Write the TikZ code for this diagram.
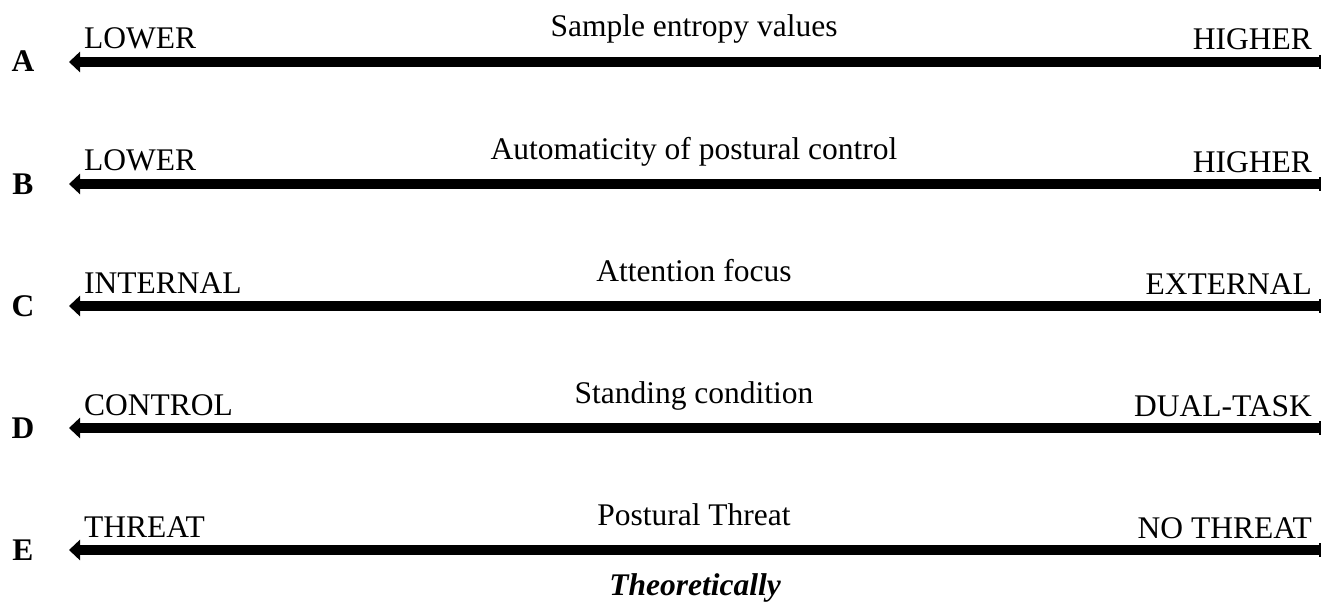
\documentclass[tikz,border=0pt]{standalone}
\usepackage{fontspec}
\setmainfont{Liberation Serif}
\usetikzlibrary{arrows.meta}
\begin{document}
\begin{tikzpicture}[x=1pt,y=-1pt,
  txt/.style={inner sep=0pt,font=\fontsize{31.5}{36}\selectfont},
  letter/.style={txt,anchor=base,font=\fontsize{31.5}{36}\selectfont\bfseries},
  lefttxt/.style={txt,anchor=base west},
  righttxt/.style={txt,anchor=base east},
  titletxt/.style={txt,anchor=base},
  scalearrow/.style={line width=10pt,-{Triangle[length=11pt,width=20pt]}},
  endtick/.style={line width=1.6pt}]
\useasboundingbox (0,0) rectangle (1322,607);
\foreach \id/\yy/\lt/\rt/\tt in {
  A/62/LOWER/HIGHER/Sample entropy values,
  B/184/LOWER/HIGHER/Automaticity of postural control,
  C/306/INTERNAL/EXTERNAL/Attention focus,
  D/428/CONTROL/DUAL-TASK/Standing condition,
  E/550/THREAT/NO THREAT/Postural Threat}{
  \coordinate (\id-r) at (1320,\yy);
  \coordinate (\id-l) at (69,\yy);
  \draw[scalearrow] (\id-r) -- (\id-l);
  \draw[endtick] ([yshift=7pt]\id-r) -- ([yshift=-7pt]\id-r);
  \node[letter] (\id-let) at (23,\yy+10) {\id};
  \node[lefttxt] (\id-lo) at (84,\yy-13) {\lt};
  \node[righttxt] (\id-hi) at (1312,\yy-12) {\rt};
  \node[titletxt] (\id-ti) at (694,\yy-25) {\tt};
}
\node[txt,anchor=base,font=\fontsize{31.5}{36}\selectfont\bfseries\itshape] (theo) at (695,595) {Theoretically};
\end{tikzpicture}
\end{document}
